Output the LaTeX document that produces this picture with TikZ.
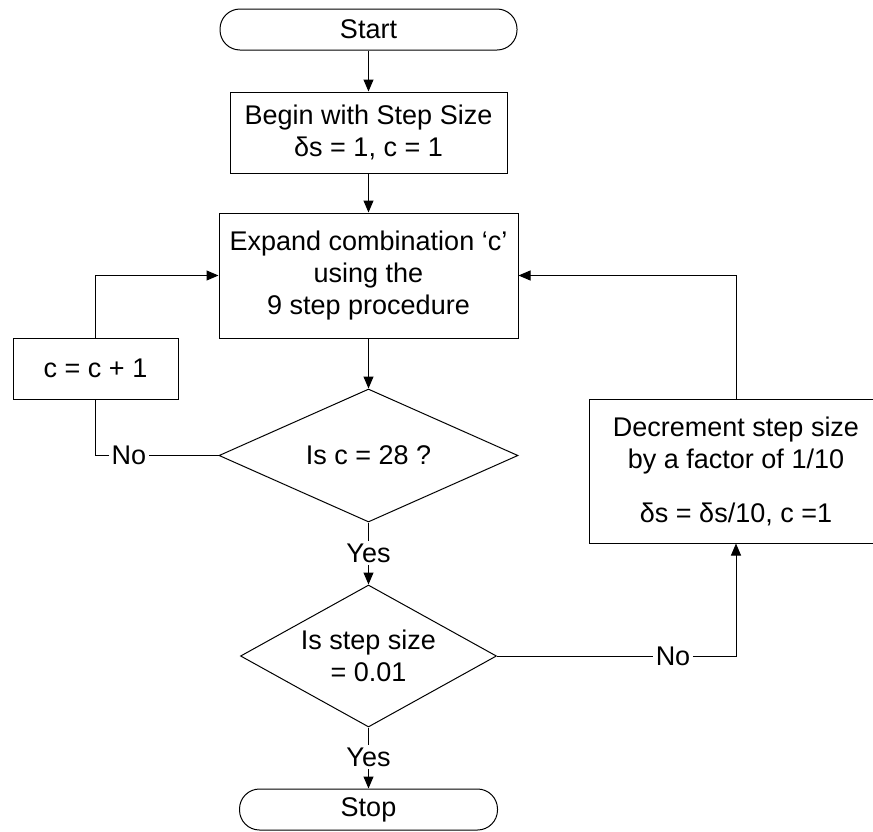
\documentclass[tikz,border=0pt]{standalone}
\usepackage{fontspec}
\setmainfont{Liberation Sans}
\usetikzlibrary{shapes.geometric,arrows.meta}

\begin{document}
\begin{tikzpicture}[x=0.5pt,y=-0.5pt,>={Triangle[length=6pt,width=5pt]},line width=0.5pt,
  every node/.style={font=\fontsize{13.5}{16}\selectfont,align=center},
  term/.style={draw,rounded corners=10pt,minimum width=#1,minimum height=20.5pt,inner sep=0pt},
  box/.style={draw,inner sep=0pt},
  test/.style={draw,diamond,aspect=2,inner sep=0pt},
  lbl/.style={inner sep=1pt}]
\clip (0,0) rectangle (873,831);
\node[term=148.5pt] (start) at (368.5,29.5) {Start};
\node[box,minimum width=138.5pt,minimum height=40.5pt] (begin) at (368.5,132.5) {Begin with Step Size\\δs = 1, c = 1};
\node[box,minimum width=149.5pt,minimum height=62.5pt] (expand) at (368.5,275.5) {Expand combination ‘c'\\using the\\9 step procedure};
\node[box,minimum width=82.5pt,minimum height=30.5pt] (cinc) at (95.5,368.5) {c = c + 1};
\node[test,minimum width=149.5pt,minimum height=66.5pt] (dec1) at (368.5,455.5) {Is c = 28 ?};
\node[test,minimum width=128pt,minimum height=71pt] (dec2) at (368.5,656) {Is step size\\= 0.01};
\node[term=129pt] (stop) at (368.5,809.5) {Stop};
\node[box,minimum width=147pt,minimum height=72pt] (decr) at (736,471) {Decrement step size\\by a factor of 1/10\\[11pt]δs = δs/10, c =1};
\node[lbl] (yes1) at (368.5,553) {Yes};
\node[lbl] (yes2) at (368.5,757) {Yes};
\node[lbl] (nol) at (129,455.5) {No};
\node[lbl] (nor) at (673,656) {No};
\draw[->] (start) -- (begin);
\draw[->] (begin) -- (expand);
\draw[->] (expand) -- (dec1);
\draw (dec1) -- (yes1);
\draw[->] (yes1) -- (dec2);
\draw (dec2) -- (yes2);
\draw[->] (yes2) -- (stop);
\draw (dec1) -- (nol);
\draw (nol) -| (cinc);
\draw[->] (cinc) |- (expand);
\draw (dec2) -- (nor);
\draw[->] (nor) -| (decr);
\draw[->] (decr) |- (expand);
\end{tikzpicture}
\end{document}
